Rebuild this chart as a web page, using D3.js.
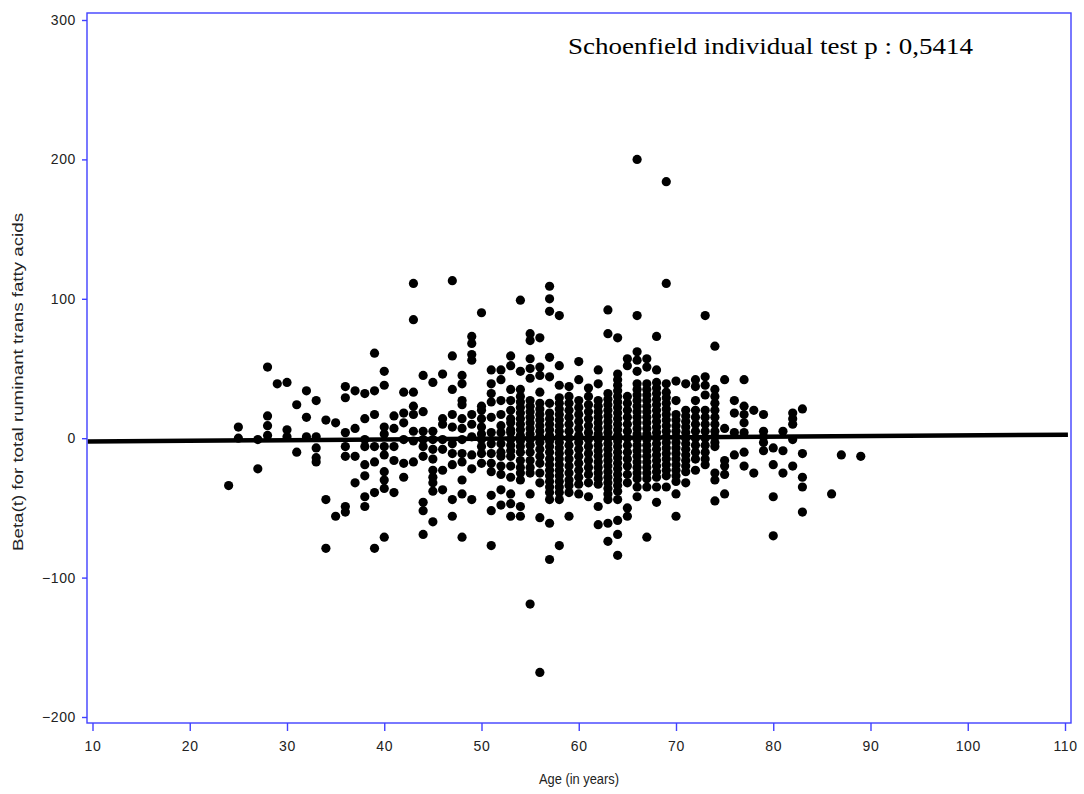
<!DOCTYPE html>
<html>
<head>
<meta charset="utf-8">
<script src="https://cdn.jsdelivr.net/npm/d3@7/dist/d3.min.js"></script>
<style>
  body { margin: 0; background: #fff; }
  .tick text { font-family: "Liberation Sans", Arial, sans-serif; font-size: 14px; fill: #222; letter-spacing: 0.6px; }
</style>
</head>
<body>
<script>
// ages (one column of residuals per age)
var ages = [24, 25, 27, 28, 29, 30, 31, 32, 33, 34, 35, 36, 37, 38, 39, 40, 41, 42, 43, 44,
            45, 46, 47, 48, 49, 50, 51, 52, 53, 54, 55, 56, 57, 58, 59, 60, 61, 62, 63, 64,
            65, 66, 67, 68, 69, 70, 71, 72, 73, 74, 75, 76, 77, 78, 79, 80, 81, 82, 83, 86, 87, 89];

// scaled Schoenfeld residuals
var betaByAge = [
  [-34],
  [8, 0],
  [-1, -22],
  [51, 16, 9, 2],
  [39],
  [40, 6, 1],
  [24, -10],
  [34, 15, 1],
  [27, 1, -7, -14, -17],
  [13, -44, -79],
  [11, -56],
  [37, 29, 4, -6, -13, -49, -53],
  [34, 7, -13, -32],
  [32, 14, -1, -6, -19, -27, -42, -49],
  [61, 34, 17, -6, -17, -39, -79],
  [48, 38, 8, 3, -6, -12, -24, -30, -36, -71],
  [16, 7, -6, -16, -39],
  [33, 18, 11, -1, -18, -28],
  [111, 85, 33, 23, 17, 5, -2, -17],
  [45, 19, 5, -1, -6, -13, -46, -52, -69],
  [40, 5, -1, -8, -15, -23, -28, -32, -38, -60],
  [46, 14, 10, -1, -8, -23, -37],
  [113, 59, 35, 17, 8, -4, -11, -19, -44, -56],
  [45, 39, 27, 24, 14, 7, -1, -11, -17, -30, -40, -71],
  [73, 68, 60, 56, 17, 10, 1, -12, -22, -44],
  [90, 23, 20, 14, 8, 3, -1, -6, -11, -18],
  [49, 39, 32, 26, 15, 4, -4, -11, -18, -24, -41, -52, -77],
  [49, 42, 27, 17, 9, 4, -4, -10, -13, -20, -26, -37, -48],
  [59, 52, 35, 27, 20, 14, 11, 6, 4, -1, -5, -9, -13, -20, -28, -40, -47, -56],
  [99, 48, 35, 30, 26, 22, 18, 14, 10, 6, 2, -2, -6, -10, -16, -21, -25, -30, -49, -56],
  [75, 70, 57, 50, 43, 27, 23, 19, 15, 11, 7, 3, -1, -5, -10, -16, -21, -25, -40, -119],
  [72, 51, 45, 33, 25, 21, 17, 13, 9, 5, 1, -3, -8, -13, -18, -25, -32, -57, -168],
  [109, 100, 91, 58, 44, 25, 18, 14, 10, 6, 2, -2, -6, -10, -15, -19, -23, -27, -31, -35, -39, -44, -61, -87],
  [88, 52, 38, 29, 25, 21, 17, 13, 9, 5, 1, -3, -7, -11, -15, -19, -23, -27, -31, -35, -39, -44, -77],
  [37, 30, 25, 20, 15, 10, 5, 0, -5, -10, -15, -20, -25, -30, -34, -39, -56],
  [55, 42, 27, 22, 17, 12, 7, 2, -3, -8, -13, -18, -23, -28, -33, -40],
  [36, 30, 24, 19, 14, 9, 4, -1, -6, -11, -16, -21, -26, -32, -42],
  [49, 39, 27, 23, 19, 15, 11, 7, 3, -1, -5, -9, -13, -17, -21, -25, -29, -33, -49, -62],
  [92, 75, 32, 28, 24, 20, 16, 12, 8, 4, 0, -4, -8, -12, -16, -20, -24, -28, -32, -36, -40, -44, -61, -74],
  [72, 46, 42, 38, 34, 30, 26, 22, 18, 14, 10, 6, 2, -2, -6, -10, -14, -18, -22, -26, -30, -34, -38, -44, -59, -69, -84],
  [57, 52, 30, 25, 20, 15, 10, 5, 0, -5, -10, -15, -20, -26, -32, -50, -56],
  [200, 88, 62, 56, 48, 39, 35, 31, 27, 23, 19, 15, 11, 7, 3, -1, -5, -9, -13, -17, -21, -25, -29, -35, -42],
  [57, 51, 39, 35, 31, 27, 23, 19, 15, 11, 7, 3, -1, -5, -9, -13, -17, -21, -25, -29, -35, -71],
  [73, 49, 40, 36, 32, 28, 24, 20, 16, 12, 8, 4, 0, -4, -8, -12, -16, -20, -24, -28, -35, -46],
  [184, 111, 39, 33, 29, 25, 21, 17, 13, 9, 5, 1, -3, -7, -11, -15, -19, -23, -27, -35],
  [41, 27, 17, 13, 9, 5, 1, -3, -7, -11, -15, -19, -23, -27, -31, -40, -56],
  [39, 20, 16, 12, 8, 4, 0, -4, -8, -12, -16, -20, -24, -32],
  [42, 37, 27, 20, 15, 10, 5, 0, -5, -10, -15, -23],
  [88, 44, 38, 31, 20, 15, 10, 5, 0, -5, -10, -15, -19],
  [66, 35, 30, 25, 20, 15, 10, 5, 1, -3, -6, -25, -30, -45],
  [42, 7, -16, -20, -26, -40],
  [27, 18, 4, -12],
  [42, 23, 17, 11, 4, -10, -20],
  [20, -25],
  [17, 5, 1, -3, -9],
  [-7, -19, -42, -70],
  [5, -9, -25],
  [18, 14, 10, -1, -20],
  [21, -11, -28, -35, -53],
  [-40],
  [-12],
  [-13]
];

var xTicks = [10, 20, 30, 40, 50, 60, 70, 80, 90, 100, 110];
var yTicks = [-200, -100, 0, 100, 200, 300];

// smoothed beta(t) line
var fitAges = [9.5, 110.3];
var fitBetas = [-2.4, 2.5];

var pValueText = "Schoenfield individual test p : 0,5414";
var xTitle = "Age (in years)";
var yTitle = "Beta(t) for total ruminant trans fatty acids";

var svgWidth = 1084;
var svgHeight = 794;
var frame = { left: 87, top: 13, right: 1071, bottom: 723 };
var blue = "#4141ff";

var svg = d3.select("body")
  .append("svg")
  .attr("width", svgWidth)
  .attr("height", svgHeight);

var xScale = d3.scaleLinear().domain([10, 110]).range([92.5, 1065]);
var yScale = d3.scaleLinear().domain([-200, 300]).range([717, 20]);

// points
var points = [];
ages.forEach(function(a, i) {
  betaByAge[i].forEach(function(b) {
    points.push({ age: a, beta: b });
  });
});

svg.append("g")
  .selectAll("circle")
  .data(points)
  .enter()
  .append("circle")
  .attr("cx", d => xScale(d.age))
  .attr("cy", d => yScale(d.beta))
  .attr("r", 4.6)
  .attr("fill", "#000");

// fitted line
var fit = fitAges.map((a, i) => [a, fitBetas[i]]);
svg.append("path")
  .datum(fit)
  .attr("d", d3.line().x(d => xScale(d[0])).y(d => yScale(d[1])))
  .attr("stroke", "#000")
  .attr("stroke-width", 4.5)
  .attr("fill", "none");

// frame
svg.append("rect")
  .attr("x", frame.left)
  .attr("y", frame.top)
  .attr("width", frame.right - frame.left)
  .attr("height", frame.bottom - frame.top)
  .attr("fill", "none")
  .attr("stroke", blue)
  .attr("stroke-width", 1.4);

// axes
var bottomAxis = d3.axisBottom(xScale).tickValues(xTicks).tickSize(8).tickPadding(10);
var leftAxis = d3.axisLeft(yScale).tickValues(yTicks).tickSize(5).tickPadding(6);

var gx = svg.append("g")
  .attr("transform", `translate(0, ${frame.bottom})`)
  .call(bottomAxis);
var gy = svg.append("g")
  .attr("transform", `translate(${frame.left}, 0)`)
  .call(leftAxis);

[gx, gy].forEach(function(g) {
  g.select(".domain").remove();
  g.selectAll(".tick line").attr("stroke", blue).attr("stroke-width", 1.4);
});

// titles
svg.append("text")
  .attr("x", (frame.left + frame.right) / 2)
  .attr("y", 784)
  .attr("text-anchor", "middle")
  .attr("textLength", 80)
  .attr("lengthAdjust", "spacingAndGlyphs")
  .style("font-family", "'Liberation Sans', Arial, sans-serif")
  .style("font-size", "14px")
  .style("fill", "#222")
  .text(xTitle);

svg.append("text")
  .attr("transform", "translate(23, 382) rotate(-90)")
  .attr("text-anchor", "middle")
  .attr("textLength", 338)
  .attr("lengthAdjust", "spacingAndGlyphs")
  .style("font-family", "'Liberation Sans', Arial, sans-serif")
  .style("font-size", "14px")
  .style("fill", "#222")
  .text(yTitle);

svg.append("text")
  .attr("x", 568)
  .attr("y", 54)
  .attr("textLength", 405)
  .attr("lengthAdjust", "spacingAndGlyphs")
  .style("font-family", "'Liberation Serif', 'Times New Roman', serif")
  .style("font-size", "23px")
  .style("fill", "#000")
  .text(pValueText);
</script>
</body>
</html>
